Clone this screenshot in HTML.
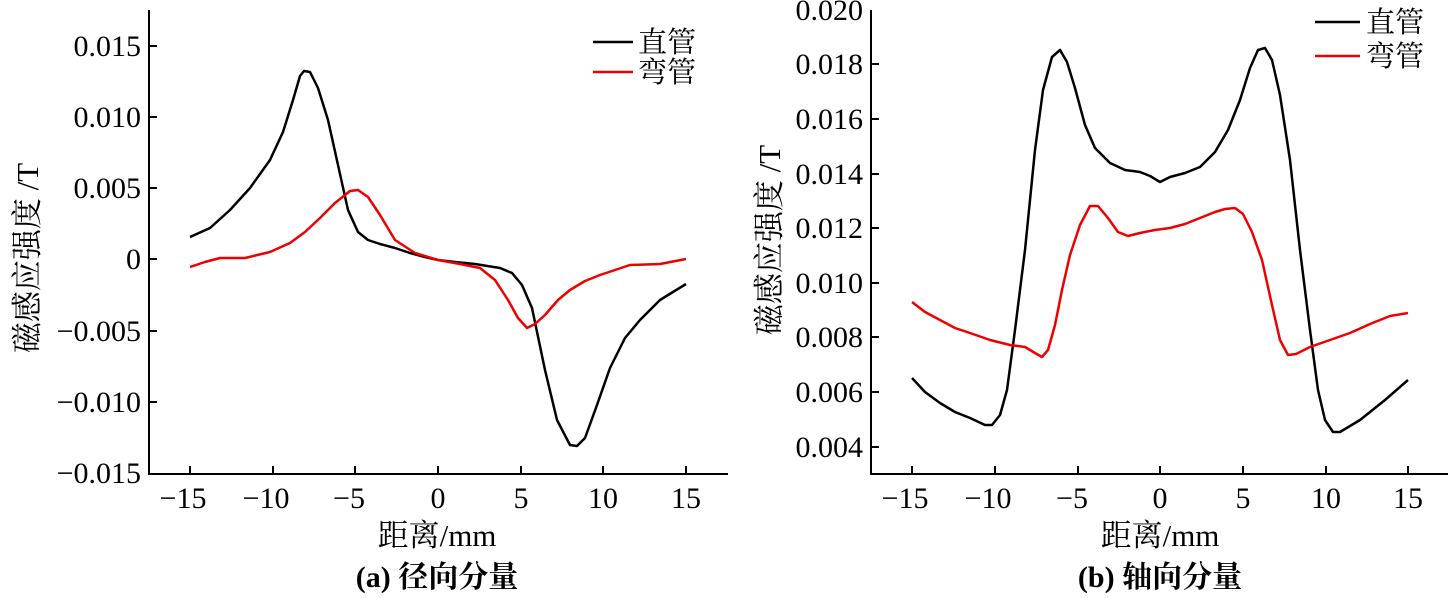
<!DOCTYPE html>
<html><head><meta charset="utf-8"><style>
body{margin:0;background:#fff}
svg text{font-family:"Liberation Serif","Noto Serif CJK SC",serif;fill:#000}
</style></head><body>
<svg width="1452" height="593" viewBox="0 0 1452 593" xmlns="http://www.w3.org/2000/svg">
<g stroke="#000" stroke-width="2" fill="none">
<path d="M149,10V474H728"/>
<path d="M149,46h8M149,117h8M149,188h8M149,259h8M149,331h8M149,402h8"/>
<path d="M190,474v-8M273,474v-8M355,474v-8M438,474v-8M521,474v-8M603,474v-8M686,474v-8"/>
<path d="M871,10V474H1448"/>
<path d="M871,64h8M871,119h8M871,174h8M871,228h8M871,283h8M871,337h8M871,392h8M871,447h8"/>
<path d="M912,474v-8M995,474v-8M1078,474v-8M1160,474v-8M1243,474v-8M1326,474v-8M1408,474v-8"/>
</g>
<g font-size="30" text-anchor="end">
<text x="141" y="56">0.015</text><text x="141" y="127">0.010</text><text x="141" y="198">0.005</text>
<text x="141" y="269">0</text><text x="141" y="341">−0.005</text><text x="141" y="412">−0.010</text><text x="141" y="483">−0.015</text>
<text x="863" y="20">0.020</text><text x="863" y="74">0.018</text><text x="863" y="129">0.016</text><text x="863" y="184">0.014</text>
<text x="863" y="238">0.012</text><text x="863" y="293">0.010</text><text x="863" y="347">0.008</text><text x="863" y="402">0.006</text><text x="863" y="457">0.004</text>
</g>
<g font-size="30" text-anchor="middle">
<text x="183" y="508">−15</text><text x="266" y="508">−10</text><text x="349" y="508">−5</text><text x="438" y="508">0</text>
<text x="521" y="508">5</text><text x="603" y="508">10</text><text x="686" y="508">15</text>
<text x="905" y="508">−15</text><text x="988" y="508">−10</text><text x="1072" y="508">−5</text><text x="1160" y="508">0</text>
<text x="1243" y="508">5</text><text x="1326" y="508">10</text><text x="1408" y="508">15</text>
<text x="437" y="546" font-size="31">距离/mm</text>
<text x="1160" y="546" font-size="31">距离/mm</text>
<text x="437" y="587" font-size="30" font-weight="bold">(a) 径向分量</text>
<text x="1160" y="587" font-size="30" font-weight="bold">(b) 轴向分量</text>
<text transform="translate(38,258) rotate(-90)" font-size="31">磁感应强度 /T</text>
<text transform="translate(780,240) rotate(-90)" font-size="31">磁感应强度 /T</text>
</g>
<g font-size="29">
<text x="638" y="52">直管</text><text x="638" y="82">弯管</text>
<text x="1366" y="32">直管</text><text x="1366" y="66">弯管</text>
</g>
<g fill="none" stroke-width="2.5" stroke-linejoin="round">
<path stroke="#000" d="M593,42h40M1315,22h45"/>
<path stroke="#e00" d="M593,72h40M1315,56h45"/>
<polyline stroke="#000" points="190,237 210,228 230,210 250,188 270,160 283,132 293,100 300,76 304,71 310,72 318,88 328,120 338,165 348,210 358,232 368,240 380,244 395,248 410,253 425,257 438,260 455,262 475,264 500,268 512,273 522,285 532,308 545,370 557,420 570,445 577,446 585,438 597,405 610,368 625,338 640,320 660,300 686,284"/>
<polyline stroke="#e00" points="190,267 205,262 220,258 245,258 270,252 290,243 305,232 320,218 335,203 350,191 358,190 368,197 380,215 395,240 415,253 438,260 460,264 480,268 495,280 508,300 518,318 527,328 535,324 545,315 558,300 570,290 585,281 600,275 630,265 660,264 686,259"/>
<polyline stroke="#000" points="912,378 925,392 940,403 955,412 970,418 985,425 992,425 1000,415 1007,390 1015,330 1025,250 1035,150 1043,90 1052,57 1060,50 1067,62 1075,88 1085,125 1095,148 1110,163 1125,170 1140,172 1150,176 1160,182 1170,177 1185,173 1200,167 1215,152 1228,130 1240,100 1250,68 1258,50 1265,48 1272,60 1280,95 1290,160 1300,250 1310,330 1318,390 1325,420 1333,432 1340,432 1360,420 1385,400 1408,380"/>
<polyline stroke="#e00" points="912,302 925,312 940,320 955,328 970,333 990,340 1010,345 1025,347 1035,353 1042,357 1048,350 1055,325 1062,290 1070,255 1080,225 1090,206 1098,206 1108,218 1118,232 1128,236 1140,233 1155,230 1170,228 1185,224 1200,218 1215,212 1225,209 1235,208 1243,214 1252,232 1262,260 1272,305 1280,340 1288,355 1296,354 1310,347 1330,340 1350,333 1370,324 1390,316 1408,313"/>
</g>
</svg>
</body></html>
